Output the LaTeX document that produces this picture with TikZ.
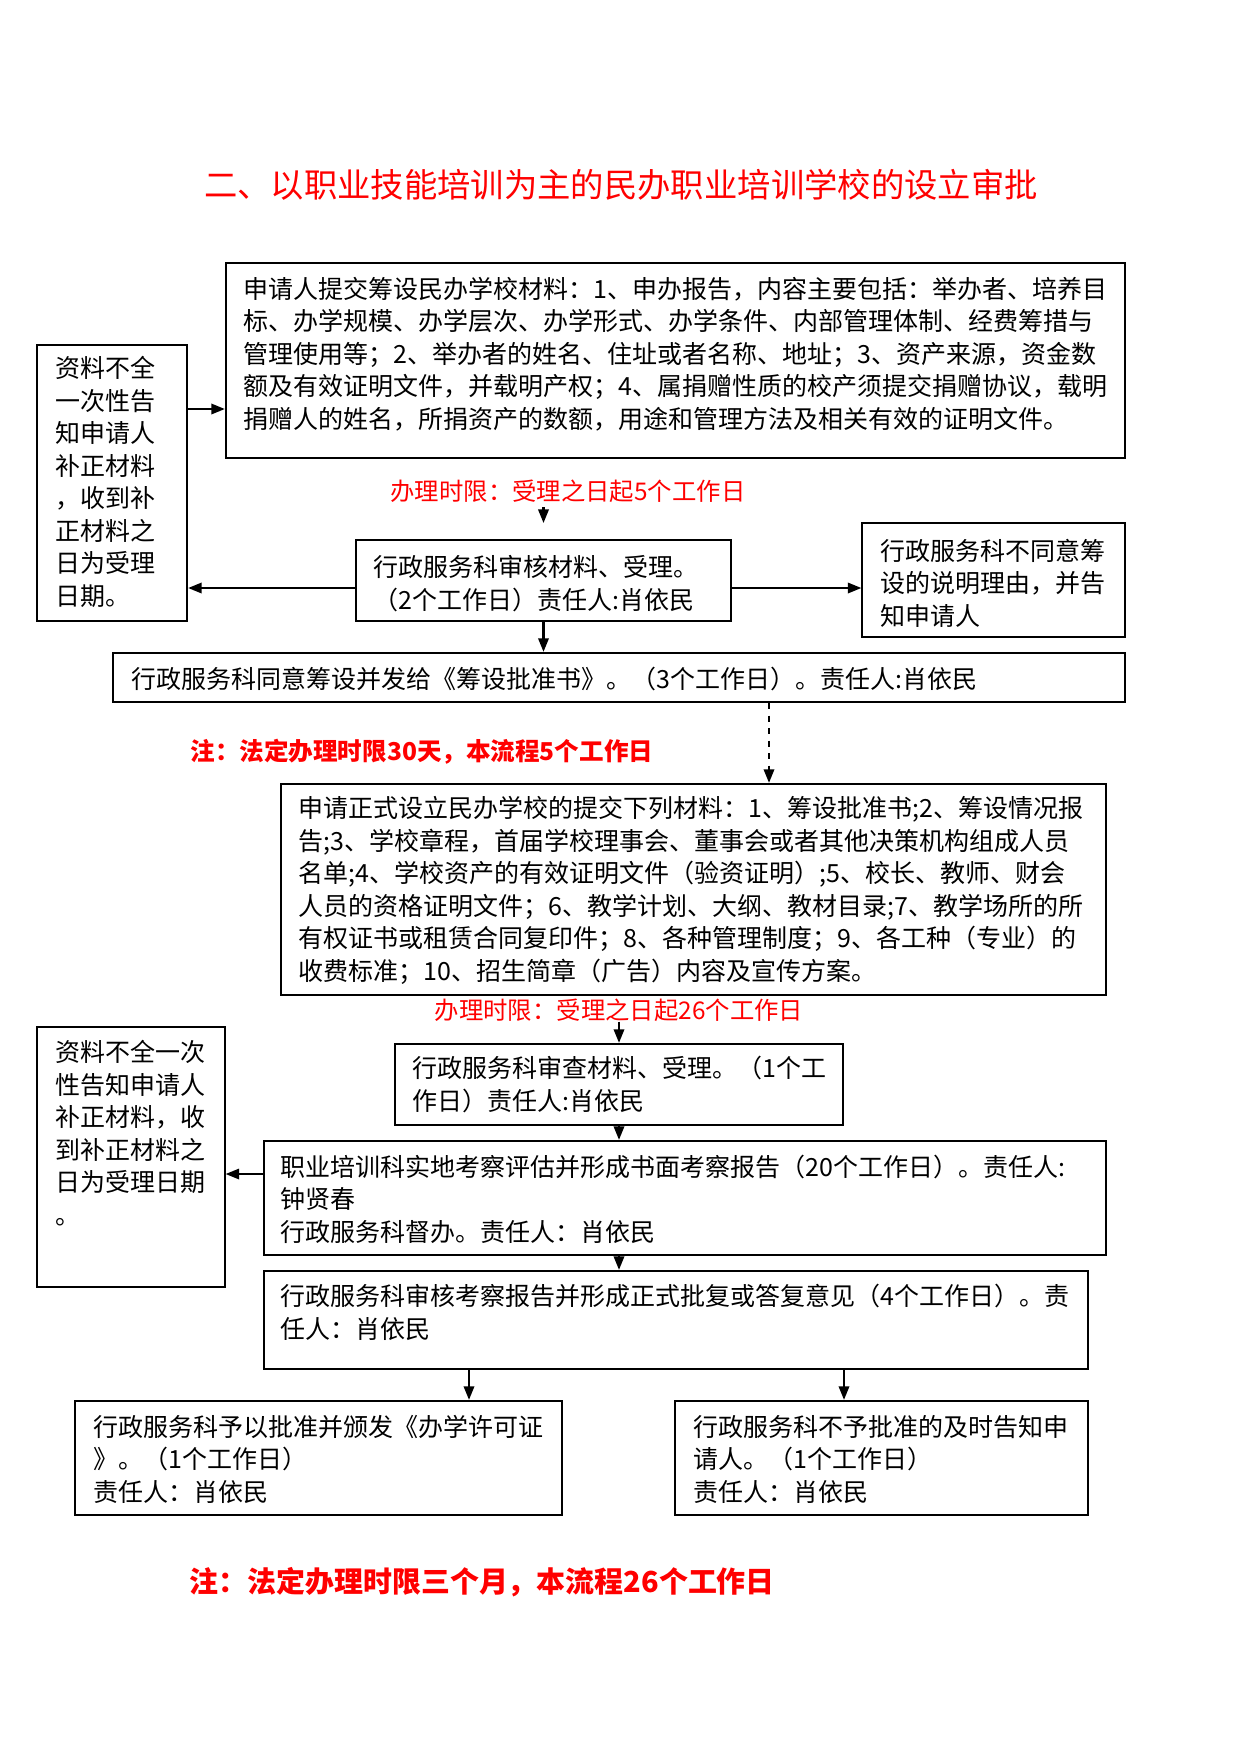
\documentclass[tikz,border=0pt]{standalone}
\usepackage{fontspec}
\setmainfont{Noto Sans CJK SC}
\usetikzlibrary{arrows.meta,fit}

\tikzset{
    box/.style={draw, line width=1.1pt, inner sep=0pt},
    thinbox/.style={box, line width=0.6pt},
    txt/.style={anchor=base west, align=left, inner sep=0pt, font=\fontsize{12}{15.6}\selectfont},
    limit/.style={anchor=base, inner sep=0pt, text=red, font=\fontsize{11.7}{14}\selectfont},
    note/.style={anchor=base west, inner sep=0pt, text=red, font=\bfseries\fontsize{11.8}{14}\selectfont},
    arr/.style={-{Triangle[length=6.5pt,width=5pt]}, line width=1pt},
}

\begin{document}
\begin{tikzpicture}[x=0.48pt,y=-0.48pt]
    \useasboundingbox (0,0) rectangle (1241,1754);

    \node[anchor=base, text=red, font=\fontsize{16}{20}\selectfont] (title) at (621,197) {二、以职业技能培训为主的民办职业培训学校的设立审批};

    % boxes
    \node[box, fit={(226,263) (1125,458)}] (apply) {};
    \node[box, fit={(37,345) (187,621)}] (lack1) {};
    \node[box, fit={(356,540) (731,621)}] (check1) {};
    \node[thinbox, fit={(862,523) (1125,637)}] (refuse1) {};
    \node[box, fit={(113,653) (1125,702)}] (permit) {};
    \node[box, fit={(281,784) (1106,995)}] (formal) {};
    \node[box, fit={(395,1044) (843,1125)}] (review) {};
    \node[box, fit={(264,1141) (1106,1255)}] (survey) {};
    \node[thinbox, fit={(37,1027) (225,1287)}] (lack2) {};
    \node[box, fit={(264,1271) (1088,1369)}] (report) {};
    \node[box, fit={(75,1401) (562,1515)}] (grant) {};
    \node[box, fit={(675,1401) (1088,1515)}] (deny) {};

    % texts (placed by the baseline of their last line)
    \node[txt] (applyTxt) at (243,428) {申请人提交筹设民办学校材料：1、申办报告，内容主要包括：举办者、培养目\\标、办学规模、办学层次、办学形式、办学条件、内部管理体制、经费筹措与\\管理使用等；2、举办者的姓名、住址或者名称、地址；3、资产来源，资金数\\额及有效证明文件，并载明产权；4、属捐赠性质的校产须提交捐赠协议，载明\\捐赠人的姓名，所捐资产的数额，用途和管理方法及相关有效的证明文件。};
    \node[txt] (lack1Txt) at (55,605) {资料不全\\一次性告\\知申请人\\补正材料\\，收到补\\正材料之\\日为受理\\日期。};
    \node[txt] (check1Txt) at (373,609) {行政服务科审核材料、受理。\\（2个工作日）责任人:肖依民};
    \node[txt] (refuse1Txt) at (880,625) {行政服务科不同意筹\\设的说明理由，并告\\知申请人};
    \node[txt] (permitTxt) at (131,688) {行政服务科同意筹设并发给《筹设批准书》。（3个工作日）。责任人:肖依民};
    \node[txt] (formalTxt) at (298,980) {申请正式设立民办学校的提交下列材料：1、筹设批准书;2、筹设情况报\\告;3、学校章程，首届学校理事会、董事会或者其他决策机构组成人员\\名单;4、学校资产的有效证明文件（验资证明）;5、校长、教师、财会\\人员的资格证明文件；6、教学计划、大纲、教材目录;7、教学场所的所\\有权证书或租赁合同复印件；8、各种管理制度；9、各工种（专业）的\\收费标准；10、招生简章（广告）内容及宣传方案。};
    \node[txt] (reviewTxt) at (412,1110) {行政服务科审查材料、受理。（1个工\\作日）责任人:肖依民};
    \node[txt] (surveyTxt) at (280,1241) {职业培训科实地考察评估并形成书面考察报告（20个工作日）。责任人:\\钟贤春\\行政服务科督办。责任人：肖依民};
    \node[txt] (lack2Txt) at (55,1224) {资料不全一次\\性告知申请人\\补正材料，收\\到补正材料之\\日为受理日期\\。};
    \node[txt] (reportTxt) at (280,1338) {行政服务科审核考察报告并形成正式批复或答复意见（4个工作日）。责\\任人：肖依民};
    \node[txt] (grantTxt) at (93,1501) {行政服务科予以批准并颁发《办学许可证\\》。（1个工作日）\\责任人：肖依民};
    \node[txt] (denyTxt) at (693,1501) {行政服务科不予批准的及时告知申\\请人。（1个工作日）\\责任人：肖依民};

    \node[limit] (limit1) at (568,500) {办理时限：受理之日起5个工作日};
    \node[limit] (limit2) at (619,1019) {办理时限：受理之日起26个工作日};
    \node[note] (note1) at (190,760) {注：法定办理时限30天，本流程5个工作日};
    \node[note, font=\bfseries\fontsize{13.9}{17}\selectfont] (note2) at (189,1592) {注：法定办理时限三个月，本流程26个工作日};

    % arrows
    \draw[arr] (lack1.east |- 0,409) -- (apply.west |- 0,409);
    \draw[arr] (check1.north |- 0,507) -- (check1.north |- 0,523);
    \draw[arr] (check1.west |- 0,588) -- (lack1.east |- 0,588);
    \draw[arr] (check1.east |- 0,588) -- (refuse1.west |- 0,588);
    \draw[arr] (check1.south) -- (permit.north -| check1.south);
    \draw[arr, dashed] (permit.south -| 769,0) -- (formal.north -| 769,0);
    \draw[arr] (limit2.south -| review.north) -- (review.north);
    \draw[arr] (review.south) -- (survey.north -| review.south);
    \draw[arr] (survey.west |- 0,1174) -- (lack2.east |- 0,1174);
    \draw[arr] (survey.south -| review.south) -- (report.north -| review.south);
    \draw[arr] (report.south -| 469,0) -- (grant.north -| 469,0);
    \draw[arr] (report.south -| 844,0) -- (deny.north -| 844,0);
\end{tikzpicture}
\end{document}
